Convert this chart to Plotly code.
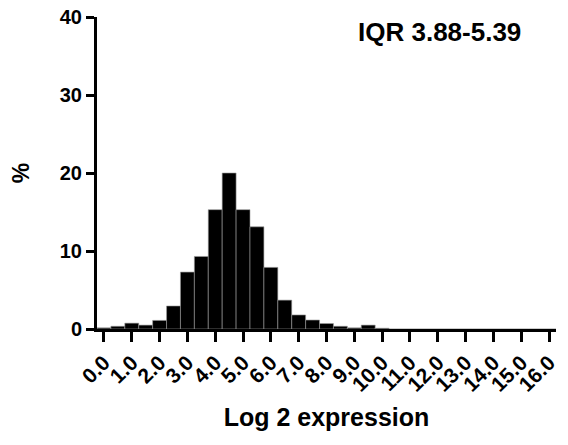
import plotly.graph_objects as go

bin_centers = [0.0, 0.5, 1.0, 1.5, 2.0, 2.5, 3.0, 3.5, 4.0, 4.5, 5.0, 5.5, 6.0, 6.5,
               7.0, 7.5, 8.0, 8.5, 9.0, 9.5, 10.0, 10.5, 11.0, 11.5, 12.0, 12.5,
               13.0, 13.5, 14.0, 14.5, 15.0, 15.5, 16.0]
percent = [0.15, 0.35, 0.75, 0.5, 1.1, 2.95, 7.3, 9.3, 15.3, 20.0, 15.3, 13.1, 7.9, 3.7,
           1.8, 1.15, 0.7, 0.35, 0.15, 0.5, 0.1, 0, 0, 0, 0, 0,
           0, 0, 0, 0, 0, 0, 0]
x_tick_vals = [0, 1, 2, 3, 4, 5, 6, 7, 8, 9, 10, 11, 12, 13, 14, 15, 16]
x_tick_text = ["0.0", "1.0", "2.0", "3.0", "4.0", "5.0", "6.0", "7.0", "8.0", "9.0",
               "10.0", "11.0", "12.0", "13.0", "14.0", "15.0", "16.0"]
y_tick_vals = [0, 10, 20, 30, 40]

FONT = "Liberation Sans, Arial, sans-serif"

fig = go.Figure()
fig.add_trace(go.Bar(
    x=bin_centers, y=percent, width=0.5,
    marker=dict(color="black", line=dict(color="#9a9a9a", width=0.6)),
))

# page body has an 8px default margin, so the figure is sized/margined to compensate
fig.update_layout(
    width=560, height=437,
    margin=dict(l=89, r=12, t=9, b=116),
    paper_bgcolor="white", plot_bgcolor="white",
    showlegend=False,
    font=dict(family=FONT, color="black"),
    xaxis=dict(
        range=[-0.25, 16.25], tickmode="array", tickvals=x_tick_vals, ticktext=x_tick_text,
        tickangle=-45, ticks="outside", ticklen=10, tickwidth=3, tickcolor="black",
        showline=True, linewidth=3, linecolor="black", showgrid=False, zeroline=False,
        automargin=False, ticklabeloverflow="allow",
        tickfont=dict(family=FONT, size=21, color="black", weight="bold"),
        title=dict(text="<b>Log 2 expression</b>", font=dict(family=FONT, size=25), standoff=14),
    ),
    yaxis=dict(
        range=[0, 40], tickmode="array", tickvals=y_tick_vals,
        ticks="outside", ticklen=8, tickwidth=3, tickcolor="black",
        showline=True, linewidth=3, linecolor="black", showgrid=False, zeroline=False,
        automargin=False, ticklabeloverflow="allow",
        tickfont=dict(family=FONT, size=20, color="black", weight="bold"),
        title=dict(text="<b>%</b>", font=dict(family=FONT, size=23), standoff=36),
    ),
    annotations=[dict(
        text="<b>IQR 3.88-5.39</b>", xref="paper", yref="paper",
        x=0.747, y=0.952, xanchor="center", yanchor="middle", showarrow=False,
        font=dict(family=FONT, size=26, color="black"),
    )],
)

fig.write_html("out.html")
